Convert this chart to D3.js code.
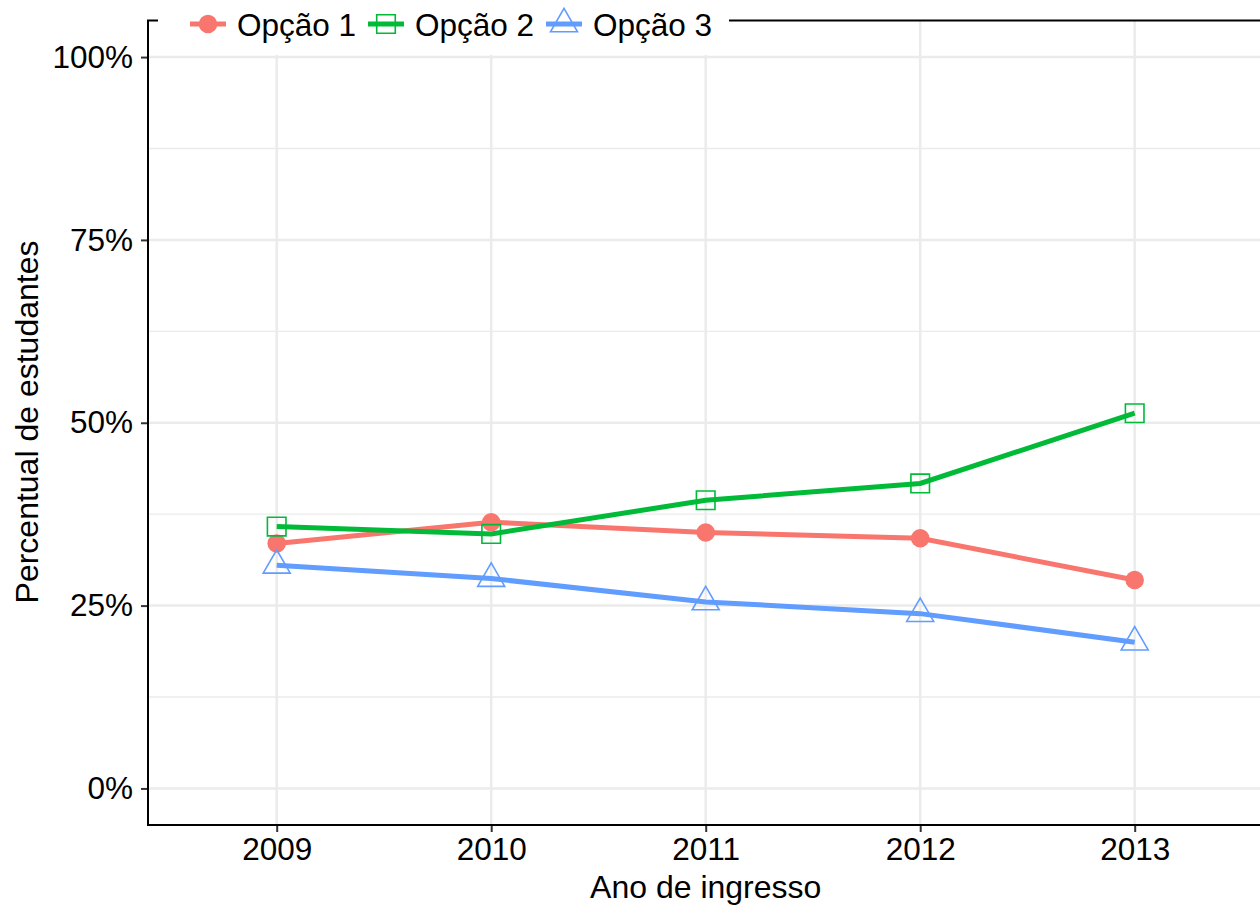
<!DOCTYPE html>
<html>
<head>
<meta charset="utf-8">
<script src="https://cdn.jsdelivr.net/npm/d3@7"></script>
<style>
  body { margin: 0; background: #fff; }
  text { font-family: "Liberation Sans", Arial, sans-serif; fill: #000; }
</style>
</head>
<body>
<svg id="chart" width="1260" height="907"></svg>
<script>
const years = ['2009', '2010', '2011', '2012', '2013'];
const seriesNames = ['Opção 1', 'Opção 2', 'Opção 3'];
const opcao1 = [0.335, 0.364, 0.350, 0.342, 0.285];
const opcao2 = [0.358, 0.348, 0.394, 0.417, 0.513];
const opcao3 = [0.305, 0.287, 0.255, 0.239, 0.200];
const yTicks = [0, 0.25, 0.5, 0.75, 1];
const yMinor = [0.125, 0.375, 0.625, 0.875];

const colors = ['#F8766D', '#00BA38', '#619CFF'];
const shapes = [d3.symbolCircle, d3.symbolSquare, d3.symbolTriangle];
const shapeSizes = [270, 345, 316];

const series = [opcao1, opcao2, opcao3].map((values, i) => ({
  name: seriesNames[i],
  values: values.map((v, j) => ({ year: years[j], value: v }))
}));

const svg = d3.select('#chart');
const panelLeft = 148, panelTop = 20.5, panelBottom = 825;

// discrete x with ggplot-like 0.6 expansion
const step = 214.5;
const scaleX = d3.scalePoint()
  .domain(years)
  .range([panelLeft + 0.6 * step, panelLeft + 4.6 * step]);
const scaleY = d3.scaleLinear()
  .domain([-0.05, 1.05])
  .range([panelBottom, panelTop]);
const panelRight = panelLeft + 5.2 * step;

const grid = svg.append('g');
grid.selectAll('.minor')
  .data(yMinor)
  .enter()
  .append('line')
  .attr('x1', panelLeft).attr('x2', panelRight)
  .attr('y1', d => scaleY(d)).attr('y2', d => scaleY(d))
  .attr('stroke', '#EBEBEB')
  .attr('stroke-width', 1.3);
grid.selectAll('.major-y')
  .data(yTicks)
  .enter()
  .append('line')
  .attr('x1', panelLeft).attr('x2', panelRight)
  .attr('y1', d => scaleY(d)).attr('y2', d => scaleY(d))
  .attr('stroke', '#EBEBEB')
  .attr('stroke-width', 2.5);
grid.selectAll('.major-x')
  .data(years)
  .enter()
  .append('line')
  .attr('x1', d => scaleX(d)).attr('x2', d => scaleX(d))
  .attr('y1', panelTop).attr('y2', panelBottom)
  .attr('stroke', '#EBEBEB')
  .attr('stroke-width', 2.5);

const line = d3.line()
  .x(d => scaleX(d.year))
  .y(d => scaleY(d.value));

svg.append('g')
  .selectAll('path')
  .data(series)
  .enter()
  .append('path')
  .attr('d', d => line(d.values))
  .attr('fill', 'none')
  .attr('stroke', (_, i) => colors[i])
  .attr('stroke-width', 5);

const points = svg.append('g')
  .selectAll('g')
  .data(series)
  .enter()
  .append('g');

points.each(function (s, i) {
  d3.select(this)
    .selectAll('path')
    .data(s.values)
    .enter()
    .append('path')
    .attr('transform', d => `translate(${scaleX(d.year)}, ${scaleY(d.value)})`)
    .attr('d', d3.symbol(shapes[i], shapeSizes[i]))
    .attr('fill', i === 0 ? colors[i] : 'none')
    .attr('stroke', i === 0 ? 'none' : colors[i])
    .attr('stroke-width', 1.6);
});

// axes
const xAxis = d3.axisBottom(scaleX).tickSize(7).tickPadding(6);
const yAxis = d3.axisLeft(scaleY)
  .tickValues(yTicks)
  .tickFormat(d => `${Math.round(d * 100)}%`)
  .tickSize(7)
  .tickPadding(8);

const xg = svg.append('g')
  .attr('transform', `translate(0, ${panelBottom})`)
  .call(xAxis);
const yg = svg.append('g')
  .attr('transform', `translate(${panelLeft}, 0)`)
  .call(yAxis);

[xg, yg].forEach(g => {
  g.select('.domain').remove();
  g.selectAll('.tick line').attr('stroke', '#333333').attr('stroke-width', 2);
  g.selectAll('.tick text').style('font-size', '31.5px').attr('fill', '#000');
});
xg.selectAll('.tick text').attr('dy', '0.71em');

// panel border lines (left, bottom, top)
svg.append('line')
  .attr('x1', panelLeft).attr('x2', panelLeft)
  .attr('y1', panelTop).attr('y2', panelBottom)
  .attr('stroke', '#000').attr('stroke-width', 2);
svg.append('line')
  .attr('x1', panelLeft - 1).attr('x2', panelRight)
  .attr('y1', panelBottom).attr('y2', panelBottom)
  .attr('stroke', '#000').attr('stroke-width', 2);
svg.append('line')
  .attr('x1', panelLeft - 1).attr('x2', panelRight)
  .attr('y1', panelTop).attr('y2', panelTop)
  .attr('stroke', '#000').attr('stroke-width', 2);

// titles
svg.append('text')
  .attr('x', (panelLeft + panelRight) / 2)
  .attr('y', 898)
  .attr('text-anchor', 'middle')
  .style('font-size', '32px')
  .text('Ano de ingresso');
svg.append('text')
  .attr('transform', 'translate(38, 422) rotate(-90)')
  .attr('text-anchor', 'middle')
  .style('font-size', '32px')
  .text('Percentual de estudantes');

// legend (sits over the top of the panel)
const legend = svg.append('g');
legend.append('rect')
  .attr('x', 158).attr('y', 0)
  .attr('width', 571).attr('height', 55)
  .attr('fill', '#fff');

const items = legend.selectAll('.item')
  .data(series)
  .enter()
  .append('g')
  .attr('transform', (_, i) => `translate(${190 + i * 178}, 24)`);

items.append('line')
  .attr('x1', 0).attr('x2', 36)
  .attr('y1', 0).attr('y2', 0)
  .attr('stroke', (_, i) => colors[i])
  .attr('stroke-width', 5);
items.append('path')
  .attr('transform', 'translate(18, 0)')
  .attr('d', (_, i) => d3.symbol(shapes[i], shapeSizes[i])())
  .attr('fill', (_, i) => i === 0 ? colors[i] : 'none')
  .attr('stroke', (_, i) => i === 0 ? 'none' : colors[i])
  .attr('stroke-width', 1.6);
items.append('text')
  .attr('x', 47)
  .attr('y', 12)
  .style('font-size', '31.5px')
  .text(d => d.name);
</script>
</body>
</html>
